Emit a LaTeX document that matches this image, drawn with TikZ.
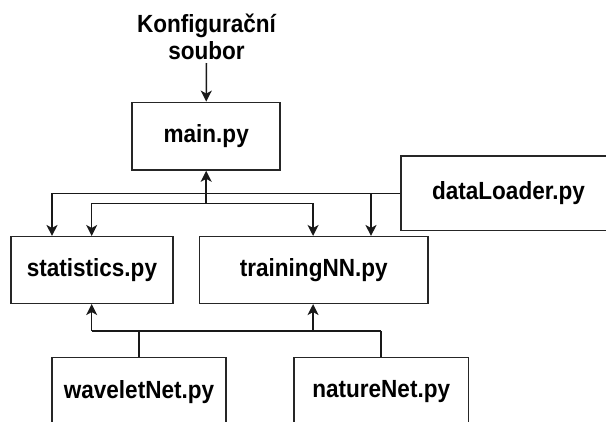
\documentclass[tikz,border=0pt]{standalone}
\usepackage{fontspec}
\usepackage{graphicx}
\setmainfont{Liberation Sans}
\usetikzlibrary{arrows.meta}
\newcommand{\lbltext}[1]{\scalebox{0.98}[1.08]{#1}}
\begin{document}
\begin{tikzpicture}[x=1pt,y=-1pt,
  lbl/.style={font=\fontsize{23}{27.5}\selectfont\bfseries, inner sep=0pt},
  box/.style={draw=black!85, line width=1.5pt, rectangle, inner sep=0pt},
  conn/.style={line width=1.5pt, draw=black!90},
  arr/.style={conn, -{Stealth[length=11pt,width=11pt,inset=3pt]}}]
\useasboundingbox (0,0) rectangle (606,421);
\clip (0,0) rectangle (606,421);
\node[lbl, align=center] (cfg) at (206.5,37) {\lbltext{Konfigurační}\\\lbltext{soubor}};
\node[box, minimum width=148pt, minimum height=67.7pt] (main) at (206.2,136.2) {};
\node[lbl] at (main) {\lbltext{main.py}};
\node[box, minimum width=215pt, minimum height=74.5pt] (dl) at (508.5,193.3) {};
\node[lbl] at (dl) {\lbltext{dataLoader.py}};
\node[box, minimum width=161.8pt, minimum height=66.6pt] (stat) at (91.9,270) {};
\node[lbl] at (stat) {\lbltext{statistics.py}};
\node[box, minimum width=228.5pt, minimum height=66.6pt] (train) at (313.75,270) {};
\node[lbl] at (train) {\lbltext{trainingNN.py}};
\node[box, minimum width=174pt, minimum height=68pt] (wave) at (139,391.7) {};
\node[lbl] at (wave) {\lbltext{waveletNet.py}};
\node[box, minimum width=174.7pt, minimum height=68pt] (nat) at (381.2,391.7) {};
\node[lbl] at (nat) {\lbltext{natureNet.py}};
\coordinate (cfgend) at (206.5,63);
% config -> main
\draw[arr] (cfgend) -- (main.north);
% dataLoader -> statistics, trainingNN
\coordinate (dlA) at (52,193.3);
\coordinate (dlB) at (371,193.3);
\draw[conn] (dl.west) -- (dlA);
\draw[arr] (dlA) -- (dlA |- stat.north);
\draw[arr] (dlB) -- (dlB |- train.north);
% main <-> statistics, trainingNN
\coordinate (mJ) at (206.2,203.3);
\coordinate (mA) at (91.7,203.3);
\coordinate (mB) at (313.1,203.3);
\draw[conn] (mA) -- (mB);
\draw[arr] (mJ) -- (main.south);
\draw[arr] (mA) -- (mA |- stat.north);
\draw[arr] (mB) -- (mB |- train.north);
% waveletNet, natureNet -> statistics, trainingNN
\coordinate (bA) at (91.7,331);
\coordinate (bB) at (313.1,331);
\coordinate (bW) at (139,331);
\coordinate (bN) at (381.2,331);
\draw[conn] (wave.north) -- (bW);
\draw[conn] (nat.north) -- (bN);
\draw[conn] (bA) -- (bN);
\draw[arr] (bA) -- (bA |- stat.south);
\draw[arr] (bB) -- (bB |- train.south);
\end{tikzpicture}
\end{document}
